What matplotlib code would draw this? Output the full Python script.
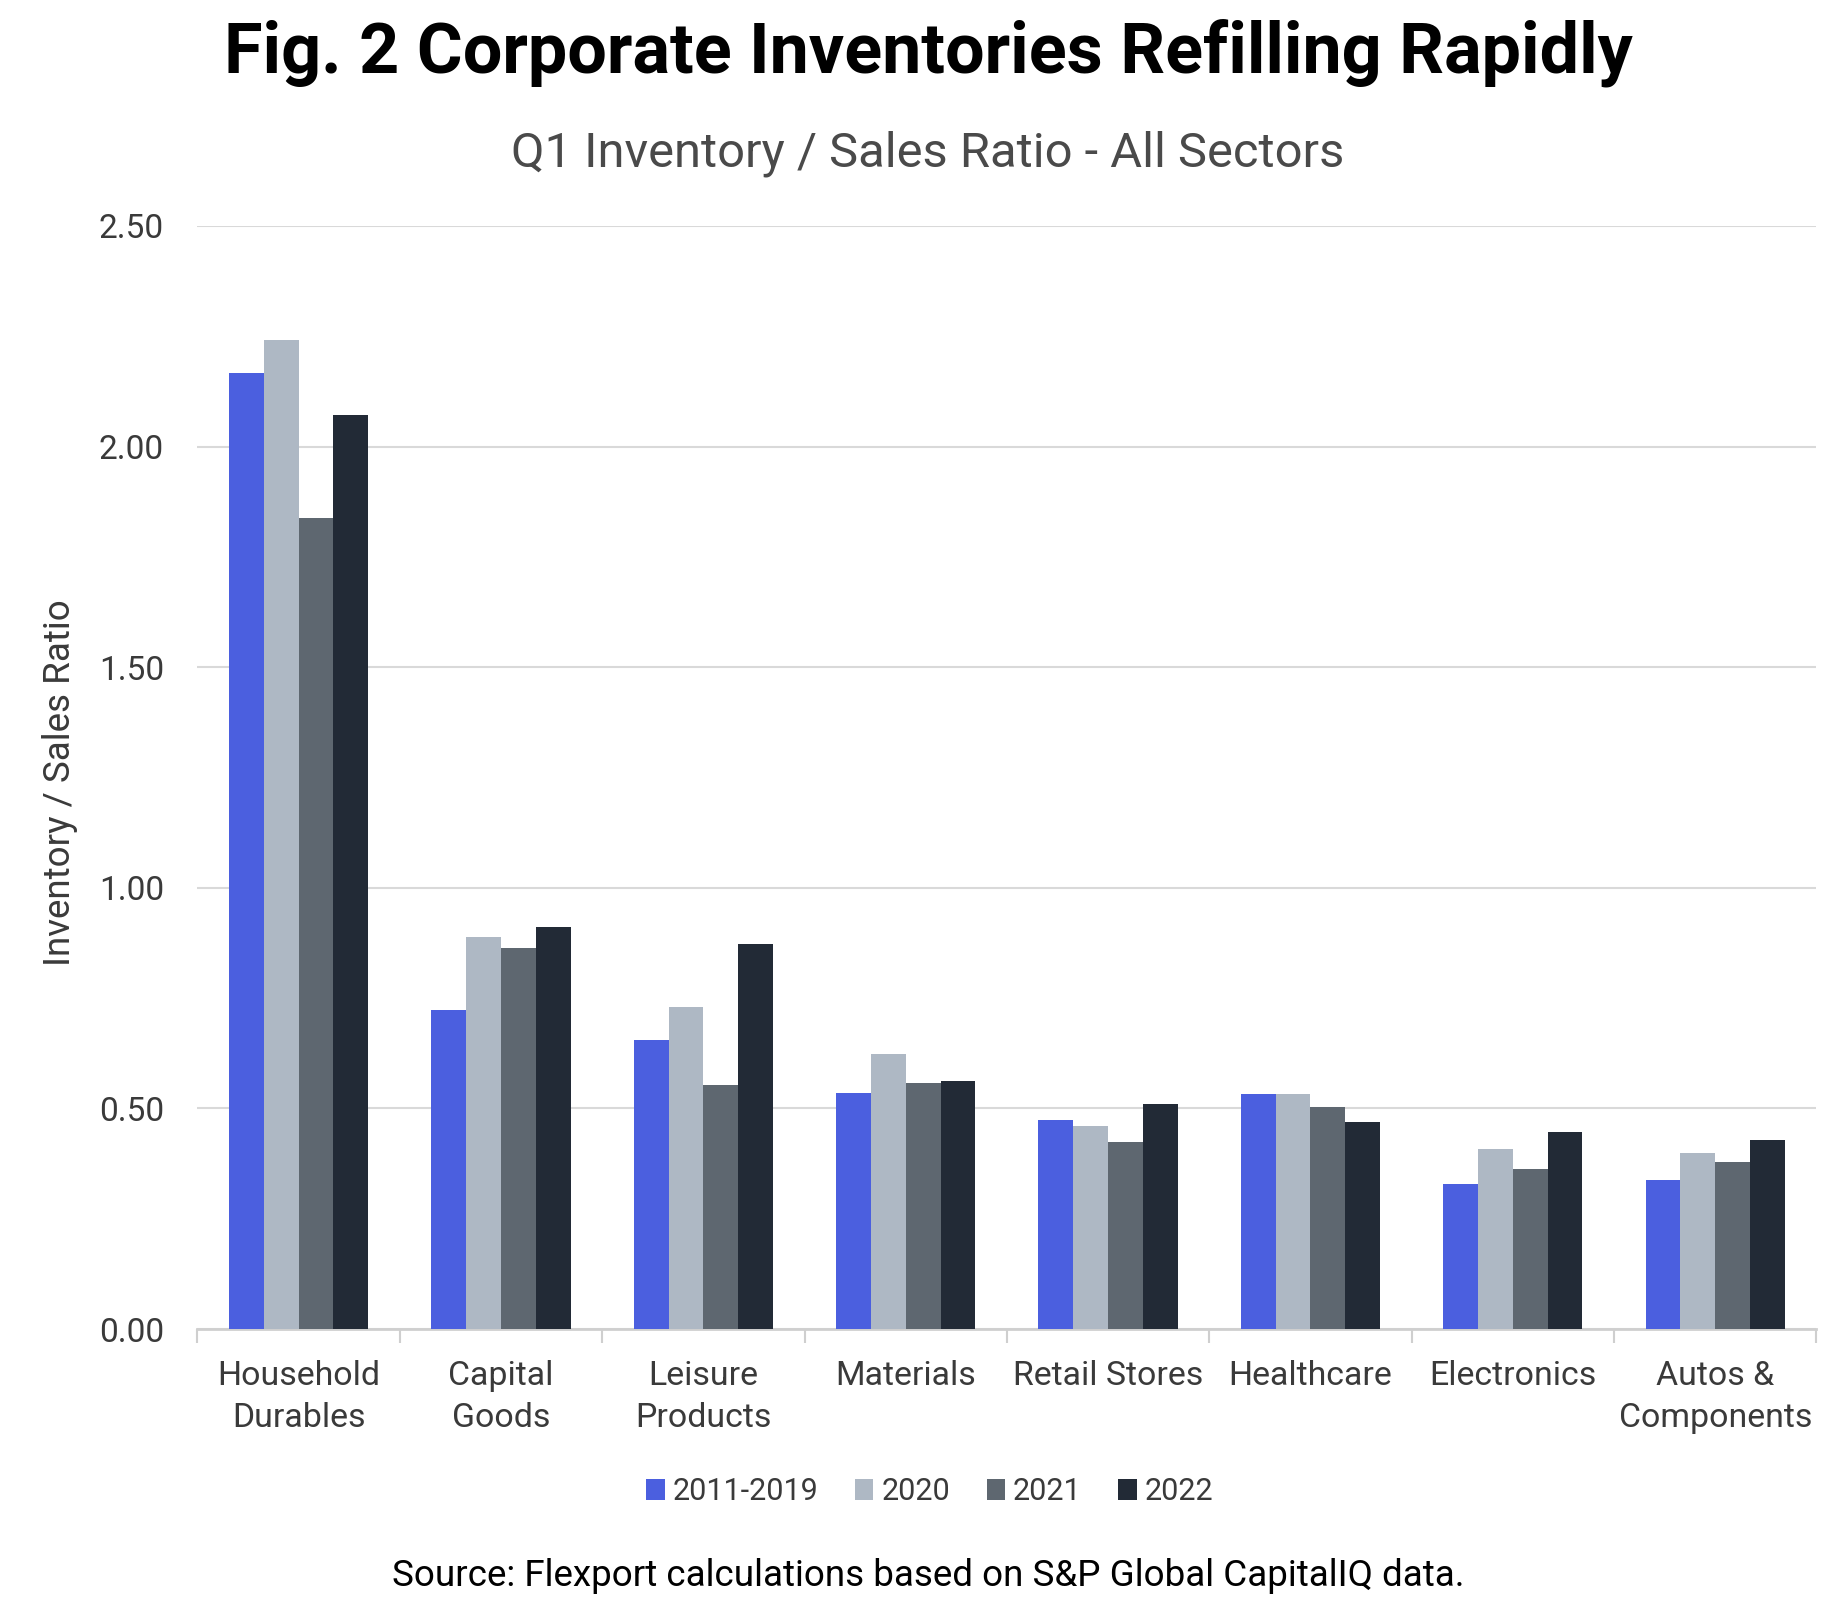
import numpy as np
import matplotlib
matplotlib.use("Agg")
import matplotlib.pyplot as plt
from matplotlib.ticker import FixedLocator

plt.rcParams['font.family'] = ['Roboto', 'DejaVu Sans']

# --- data ---
sectors = ["Household\nDurables", "Capital\nGoods", "Leisure\nProducts", "Materials",
           "Retail Stores", "Healthcare", "Electronics", "Autos &\nComponents"]
series_names = ["2011-2019", "2020", "2021", "2022"]
v_2011_2019 = [2.167, 0.723, 0.656, 0.535, 0.474, 0.532, 0.329, 0.338]
v_2020 = [2.242, 0.888, 0.730, 0.623, 0.461, 0.532, 0.409, 0.400]
v_2021 = [1.839, 0.864, 0.553, 0.557, 0.424, 0.503, 0.362, 0.379]
v_2022 = [2.071, 0.912, 0.872, 0.562, 0.511, 0.470, 0.446, 0.429]
colors = ["#4B5FDF", "#AEB8C4", "#5E6770", "#222A36"]

values = [v_2011_2019, v_2020, v_2021, v_2022]

fig = plt.figure(figsize=(18.45, 15.98), dpi=100)
ax = fig.add_axes([0.107, 0.1683, 0.8775, 0.6903])

x = np.arange(len(sectors))
w = 0.172
for i, (name, vals, c) in enumerate(zip(series_names, values, colors)):
    ax.bar(x + (i - 1.5) * w, vals, width=w, color=c, label=name, zorder=3)

ax.set_ylim(0, 2.5)
ax.set_xlim(-0.5, len(sectors) - 0.5)
ax.set_yticks(np.arange(0, 2.51, 0.5))
ax.set_yticklabels([f"{t:.2f}" for t in np.arange(0, 2.51, 0.5)])
ax.grid(axis='y', color='#D9D9D9', linewidth=1.5, zorder=0)
ax.tick_params(axis='y', length=0, pad=24, labelsize=24, labelcolor='#3a3a3a')

# category labels under the bars, group separators as minor ticks
ax.set_xticks(x)
ax.set_xticklabels(sectors, fontsize=24.4, color='#3a3a3a', linespacing=1.4)
ax.tick_params(axis='x', which='major', length=0, pad=22)
ax.xaxis.set_minor_locator(FixedLocator(np.arange(-0.5, len(sectors), 1.0)))
ax.tick_params(axis='x', which='minor', length=10, width=1.5, color='#CFCFCF')

for s in ['top', 'right', 'left']:
    ax.spines[s].set_visible(False)
ax.spines['bottom'].set_color('#CFCFCF')
ax.spines['bottom'].set_linewidth(2)

ax.set_ylabel("Inventory / Sales Ratio", fontsize=26.5, color='#3a3a3a')
ax.yaxis.set_label_coords(-0.074, 0.495)

fig.text(0.503, 0.967, "Fig. 2 Corporate Inventories Refilling Rapidly",
         ha='center', va='center', fontsize=50.5, fontweight='bold', color='black')
fig.text(0.503, 0.904, "Q1 Inventory / Sales Ratio - All Sectors",
         ha='center', va='center', fontsize=35.2, color='#4a4a4a')
fig.text(0.503, 0.0135, "Source: Flexport calculations based on S&P Global CapitalIQ data.",
         ha='center', va='center', fontsize=26.5, color='black')

fig.legend(loc='center', bbox_to_anchor=(0.504, 0.0665), ncol=4, frameon=False,
           fontsize=22, handlelength=0.6, handleheight=0.65, handletextpad=0.26,
           columnspacing=1.2, labelcolor='#3a3a3a')

fig.savefig("out.png", dpi=100)
